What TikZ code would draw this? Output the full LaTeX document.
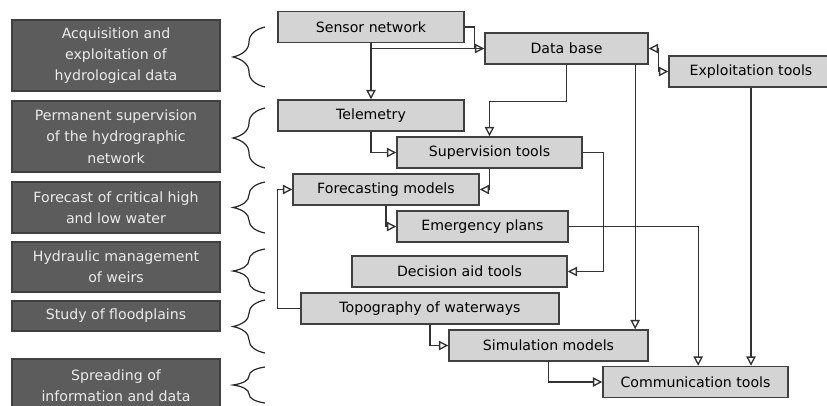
\documentclass[tikz,border=0pt]{standalone}
\usepackage{fontspec}
\setmainfont{DejaVu Sans}
\usetikzlibrary{arrows.meta, positioning, decorations.pathreplacing}

\begin{document}
\begin{tikzpicture}[
    x=0.75pt, y=-0.75pt,
    font=\fontsize{10.6pt}{16pt}\selectfont,
    mission/.style={rectangle, draw=black!75, fill=black!64, text=black!8, line width=0.8pt, minimum width=156pt, align=center, inner sep=0pt},
    tool/.style={rectangle, draw=black!75, fill=black!17, line width=1.1pt, minimum height=23.25pt, inner sep=0pt},
    link/.style={draw=black!80, line width=1pt},
    flow/.style={link, -{Triangle[open, length=7pt, width=7pt]}},
    twoway/.style={link, {Triangle[open, length=7pt, width=7pt]}-{Triangle[open, length=7pt, width=7pt]}},
    bracket/.style={draw=black!85, line width=0.9pt, decorate, decoration={brace, amplitude=24pt}}
]
    \useasboundingbox (0,0) rectangle (827,405);
    \clip (0,0) rectangle (827,405);

    % missions
    \node[mission, minimum height=53.25pt] (m1) at (116,55.5) {Acquisition and\\exploitation of\\hydrological data};
    \node[mission, minimum height=53.25pt] (m2) at (116,136.5) {Permanent supervision\\of the hydrographic\\network};
    \node[mission, minimum height=38.25pt] (m3) at (116,207.5) {Forecast of critical high\\and low water};
    \node[mission, minimum height=37.5pt] (m4) at (116,267) {Hydraulic management\\of weirs};
    \node[mission, minimum height=22.5pt] (m5) at (116,316) {Study of floodplains};
    \node[mission, minimum height=40.5pt] (m6) at (116,386) {Spreading of\\information and data};

    \draw[bracket] (265,87) -- (265,27);
    \draw[bracket] (265,168) -- (265,108);
    \draw[bracket] (265,233) -- (265,182);
    \draw[bracket] (265,293) -- (265,249);
    \draw[bracket] (265,353) -- (265,300);
    \draw[bracket] (265,403) -- (265,367);

    % tools
    \node[tool, minimum width=139.5pt] (sensor) at (371,27) {Sensor network};
    \node[tool, minimum width=122.25pt] (database) at (566.5,48.5) {Data base};
    \node[tool, minimum width=123pt] (exploit) at (751,71.5) {Exploitation tools};
    \node[tool, minimum width=139.5pt] (telemetry) at (371,115.5) {Telemetry};
    \node[tool, minimum width=138.75pt] (supervision) at (489.5,152.5) {Supervision tools};
    \node[tool, minimum width=139.5pt] (forecasting) at (386,189.5) {Forecasting models};
    \node[tool, minimum width=128.25pt] (emergency) at (482.5,226.5) {Emergency plans};
    \node[tool, minimum width=161.25pt] (decision) at (459.5,271.5) {Decision aid tools};
    \node[tool, minimum width=193.5pt] (topography) at (430,308.5) {Topography of waterways};
    \node[tool, minimum width=149.25pt] (simulation) at (548.5,345.5) {Simulation models};
    \node[tool, minimum width=138.75pt] (communication) at (695.5,382) {Communication tools};

    % links
    \draw[flow] (sensor.east) -- ++(10,0) |- (database.west);
    \draw[link] (sensor.south) |- (database.west);
    \draw[flow] (sensor.south) -- (telemetry.north);
    \draw[twoway] (database.east) -- ++(10,0) |- (exploit.west);
    \draw[flow] (database.south) -- ++(0,37) -| (supervision.north);
    \draw[flow] ([xshift=51.5]database.south) -- ([xshift=51.5]database.south |- simulation.north);
    \draw[flow] (telemetry.south) |- (supervision.west);
    \draw[flow] (supervision.south) |- (forecasting.east);
    \draw[flow] (supervision.east) -- ++(21,0) |- (decision.east);
    \draw[flow] (forecasting.south) |- (emergency.west);
    \draw[flow] (emergency.east) -| ([xshift=2]communication.north);
    \draw[flow] (exploit.south) -- (exploit.south |- communication.north);
    \draw[flow] (topography.west) -- ++(-23,0) |- (forecasting.west);
    \draw[flow] (topography.south) |- (simulation.west);
    \draw[flow] (simulation.south) |- (communication.west);
\end{tikzpicture}
\end{document}
